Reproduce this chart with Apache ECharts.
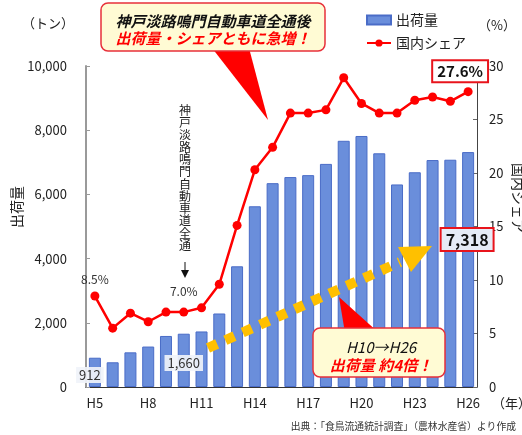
<!DOCTYPE html>
<html>
<head>
<meta charset="utf-8">
<script src="https://cdn.jsdelivr.net/npm/echarts@6/dist/echarts.min.js"></script>
<style>html,body{margin:0;padding:0;background:#fff}#c{width:522px;height:435px}</style>
</head>
<body>
<div id="c"></div>
<script>
const categories = ['H5','H6','H7','H8','H9','H10','H11','H12','H13','H14','H15','H16','H17','H18','H19','H20','H21','H22','H23','H24','H25','H26'];
const shipments = [912, 770, 1080, 1260, 1590, 1660, 1730, 2290, 3760, 5630, 6350, 6540, 6600, 6950, 7670, 7820, 7280, 6310, 6690, 7070, 7080, 7318];
const share = [8.5, 5.5, 6.9, 6.1, 7.0, 7.0, 7.4, 9.6, 15.1, 20.3, 22.4, 25.6, 25.6, 25.9, 28.9, 26.5, 25.6, 25.6, 26.8, 27.1, 26.7, 27.6];
const leftTicks = [0, 2000, 4000, 6000, 8000, 10000];
const rightTicks = [0, 5, 10, 15, 20, 25, 30];

const FONT = '"Noto Sans CJK JP", sans-serif';
const fmt = v => v.toLocaleString('en-US');

const barData = shipments.map((v, i) => {
  const item = { value: v };
  if (i === 0 || i === 5) {
    item.label = {
      show: true, position: 'insideBottom', distance: i === 0 ? 4 : 16, offset: [i === 0 ? -5 : 0, 0],
      formatter: p => fmt(p.value), color: '#333', fontSize: 13, fontFamily: FONT,
      backgroundColor: 'rgba(240,243,250,0.92)', padding: [2, 3, 1, 3]
    };
  }
  if (i === shipments.length - 1) {
    item.label = {
      show: true, position: 'insideTop', distance: 77, offset: [-1, 0],
      formatter: p => fmt(p.value), color: '#111', fontSize: 16, fontWeight: 'bold', fontFamily: FONT,
      backgroundColor: '#e6ebf6', borderColor: '#e8141c', borderWidth: 2, padding: [3, 4, 2, 4]
    };
  }
  return item;
});

const lineData = share.map((v, i) => {
  const item = { value: v };
  if (i === 0 || i === 5) {
    item.label = {
      show: true, position: 'top', distance: i === 0 ? 6 : 10,
      formatter: p => p.value.toFixed(1) + '%', color: '#333', fontSize: 12, fontFamily: FONT
    };
  }
  if (i === share.length - 1) {
    item.label = {
      show: true, position: 'top', distance: 6, offset: [-8, 0],
      formatter: p => p.value.toFixed(1) + '%', color: '#111', fontSize: 15, fontWeight: 'bold', fontFamily: FONT,
      backgroundColor: '#ffffff', borderColor: '#e8141c', borderWidth: 2, padding: [3, 4, 2, 4]
    };
  }
  return item;
});

const chart = echarts.init(document.getElementById('c'));
chart.setOption({
  animation: false,
  textStyle: { fontFamily: FONT },
  grid: { left: 86, right: 45, top: 66, bottom: 48 },
  legend: {
    orient: 'vertical', left: 361, top: 8, itemGap: 9, itemWidth: 24, itemHeight: 9,
    textStyle: { fontSize: 14, color: '#222', fontFamily: FONT },
    data: [
      { name: '出荷量', icon: 'rect' },
      { name: '国内シェア' }
    ]
  },
  xAxis: {
    type: 'category', data: categories, boundaryGap: true,
    axisLine: { lineStyle: { color: '#333', width: 1 } },
    axisTick: { show: false },
    axisLabel: { interval: 2, margin: 10, fontSize: 13, color: '#222', fontFamily: FONT }
  },
  yAxis: [
    {
      type: 'value', min: leftTicks[0], max: leftTicks[leftTicks.length - 1], interval: 2000,
      splitLine: { show: false },
      axisLine: { show: true, lineStyle: { color: '#9a9a9a', width: 2 } },
      axisTick: { show: true, inside: true, length: 4, lineStyle: { color: '#9a9a9a' } },
      axisLabel: { margin: 19, fontSize: 13, color: '#222', fontFamily: FONT, formatter: v => fmt(v) }
    },
    {
      type: 'value', min: rightTicks[0], max: rightTicks[rightTicks.length - 1], interval: 5,
      splitLine: { show: false },
      axisLine: { show: true, lineStyle: { color: '#444', width: 1 } },
      axisTick: { show: true, inside: true, length: 4, lineStyle: { color: '#666' } },
      axisLabel: { margin: 12, fontSize: 13, color: '#222', fontFamily: FONT }
    }
  ],
  series: [
    {
      name: '出荷量', type: 'bar', yAxisIndex: 0, data: barData, barWidth: 12,
      itemStyle: { color: '#6a8edb', borderColor: '#4a6cc7', borderWidth: 1 },
      z: 2
    },
    {
      name: '国内シェア', type: 'line', yAxisIndex: 1, data: lineData,
      lineStyle: { color: '#ff0000', width: 2.5 },
      itemStyle: { color: '#ff0000' },
      symbol: 'circle', symbolSize: 9,
      z: 5
    }
  ],
  graphic: [
    { type: 'text', left: 22, top: 17, style: { text: '（トン）', fill: '#222', font: '13px ' + FONT } },
    { type: 'text', left: 478, top: 19, style: { text: '（%）', fill: '#222', font: '13px ' + FONT } },
    { type: 'text', left: 492, top: 397, style: { text: '（年）', fill: '#222', font: '13px ' + FONT } },
    { type: 'text', x: 17, y: 207, rotation: Math.PI / 2, style: { text: '出荷量', fill: '#222', font: '14px ' + FONT, align: 'center', verticalAlign: 'middle' } },
    { type: 'text', x: 518, y: 198, rotation: -Math.PI / 2, style: { text: '国内シェア', fill: '#222', font: '14px ' + FONT, align: 'center', verticalAlign: 'middle' } },
    { type: 'text', right: 6, top: 421, style: { text: '出典：「食鳥流通統計調査」（農林水産省）より作成', fill: '#333', font: '9.8px ' + FONT } },
    // top callout
    { type: 'polygon', z: 90, shape: { points: [[212, 48], [249, 48], [268, 120]] }, style: { fill: '#ff0000' } },
    { type: 'rect', z: 91, shape: { x: 101, y: 3, width: 224, height: 48, r: 7 }, style: { fill: '#fffbd4', stroke: '#e8303a', lineWidth: 1.5 } },
    { type: 'text', z: 92, x: 213, y: 21, style: { text: '神戸淡路鳴門自動車道全通後', fill: '#111', font: 'italic bold 15px ' + FONT, align: 'center', verticalAlign: 'middle' } },
    { type: 'text', z: 92, x: 213, y: 38, style: { text: '出荷量・シェアともに急増！', fill: '#ff0000', font: 'italic bold 15px ' + FONT, align: 'center', verticalAlign: 'middle' } },
    // vertical annotation
    { type: 'text', z: 92, x: 185, y: 104, style: { text: '神\n戸\n淡\n路\n鳴\n門\n自\n動\n車\n道\n全\n通', fill: '#222', font: '12px ' + FONT, lineHeight: 12.3, align: 'center', verticalAlign: 'top' } },
    { type: 'line', z: 92, shape: { x1: 185, y1: 262, x2: 185, y2: 272 }, style: { stroke: '#111', lineWidth: 1 } },
    { type: 'polygon', z: 92, shape: { points: [[181, 270], [189, 270], [185, 278]] }, style: { fill: '#111' } },
    // yellow dashed arrow
    { type: 'polyline', z: 93, shape: { points: [[208, 348], [400, 262]] }, style: { stroke: '#ffc000', lineWidth: 10, lineDash: [10, 9], fill: null } },
    { type: 'polygon', z: 93, shape: { points: [[432, 246], [398, 247], [411, 272]] }, style: { fill: '#ffc000' } },
    // bottom callout
    { type: 'polygon', z: 94, shape: { points: [[339, 297], [345, 333], [379, 333]] }, style: { fill: '#ff0000' } },
    { type: 'rect', z: 95, shape: { x: 313, y: 328, width: 132, height: 49, r: 7 }, style: { fill: '#fffbd4', stroke: '#e8303a', lineWidth: 1.5 } },
    { type: 'text', z: 96, x: 381, y: 347, style: { text: 'H10→H26', fill: '#111', font: 'italic 15px ' + FONT, align: 'center', verticalAlign: 'middle' } },
    { type: 'text', z: 96, x: 381, y: 365, style: { text: '出荷量 約4倍！', fill: '#ff0000', font: 'italic bold 15px ' + FONT, align: 'center', verticalAlign: 'middle' } }
  ]
});
</script>
</body>
</html>
